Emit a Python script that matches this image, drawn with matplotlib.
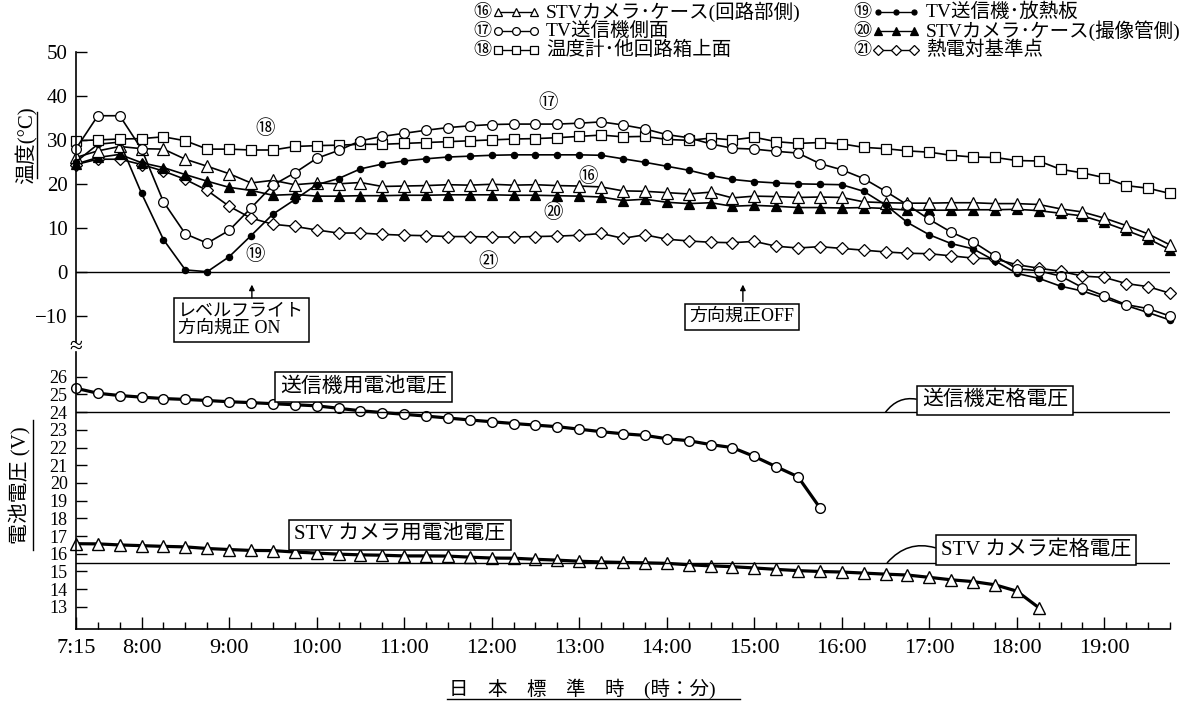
import numpy as np
import matplotlib.pyplot as plt

jp = ['Noto Sans CJK JP', 'DejaVu Sans']
mix = ['Liberation Serif', 'Noto Sans CJK JP', 'DejaVu Sans']
plt.rcParams['font.family'] = mix

# readings every 15 min from 7:15 to 19:45 (hours as float)
t = 7.25 + 0.25 * np.arange(51)

# temperatures (deg C), one value per 15 min
T16 = [26.0, 27.5, 28.5, 28.0, 27.9, 25.6, 24.0, 22.3, 20.2, 20.8, 19.8, 20.2, 20.0, 20.3, 19.4,
       19.5, 19.6, 19.8, 19.7, 19.9, 19.7, 19.8, 19.6, 19.5,
       19.3, 18.4, 18.3, 18.0, 17.7, 18.1, 16.8, 17.2, 17.1, 16.9, 17.0, 16.9, 15.9, 15.7, 15.6,
       15.6, 15.7, 15.7, 15.5, 15.5, 15.3, 14.3, 13.6, 12.2, 10.5, 8.6, 6.1]
T17 = [28.0, 35.5, 35.5, 27.9, 15.9, 8.6, 6.5, 9.4, 14.5, 19.7, 22.5, 25.8, 27.6, 29.8, 30.8,
       31.5, 32.2, 32.8, 33.2, 33.5, 33.6, 33.6, 33.6, 33.8,
       34.1, 33.4, 32.5, 31.2, 30.5, 29.1, 28.1, 27.9, 27.4, 27.0, 24.6, 23.2, 21.2, 18.3, 15.2,
       11.9, 9.0, 6.8, 3.6, 0.7, 0.2, -1.0, -3.6, -5.5, -7.5, -8.4, -10.1]
T18 = [29.8, 30.0, 30.2, 30.3, 30.7, 29.8, 27.9, 27.9, 27.7, 27.7, 28.5, 28.7, 28.8, 29.0, 29.0,
       29.2, 29.4, 29.6, 29.8, 30.0, 30.2, 30.3, 30.5, 30.8,
       31.1, 30.7, 30.8, 30.1, 29.9, 30.4, 30.0, 30.6, 29.6, 29.2, 29.4, 29.1, 28.3, 28.0, 27.5,
       27.2, 26.5, 26.1, 26.0, 25.3, 25.2, 23.3, 22.5, 21.4, 19.6, 19.0, 17.8]
T19 = [25.0, 29.0, 29.5, 17.8, 7.3, 0.4, 0.0, 3.4, 8.2, 13.1, 16.4, 19.8, 21.2, 23.4, 24.5,
       25.2, 25.7, 26.1, 26.3, 26.5, 26.6, 26.6, 26.6, 26.6,
       26.5, 25.7, 24.9, 24.0, 23.1, 21.9, 21.0, 20.5, 20.2, 20.0, 19.9, 19.8, 18.3, 15.2, 11.2,
       8.4, 6.4, 5.2, 2.5, -0.4, -1.5, -3.3, -4.4, -6.0, -7.7, -9.3, -11.0]
T20 = [24.5, 26.0, 26.7, 24.8, 23.7, 22.1, 20.6, 19.2, 18.5, 17.4, 17.6, 17.2, 17.2, 17.3, 17.3,
       17.4, 17.4, 17.5, 17.5, 17.5, 17.4, 17.4, 17.3, 17.2,
       17.0, 16.2, 16.5, 15.8, 15.5, 15.7, 14.9, 15.1, 14.9, 14.6, 14.6, 14.5, 14.6, 14.4, 14.0,
       14.0, 14.0, 14.1, 14.1, 14.2, 13.9, 13.3, 12.7, 11.2, 9.4, 7.5, 5.0]
T21 = [24.4, 25.6, 25.6, 24.4, 22.9, 21.0, 18.5, 14.9, 12.2, 10.8, 10.3, 9.5, 8.8, 8.8, 8.5,
       8.3, 8.2, 8.0, 8.0, 7.9, 7.9, 8.0, 8.1, 8.3,
       8.7, 7.6, 8.4, 7.4, 7.0, 6.7, 6.6, 6.9, 5.8, 5.4, 5.7, 5.3, 4.9, 4.5, 4.2,
       4.1, 3.6, 3.1, 2.9, 1.6, 0.8, 0.1, -1.0, -1.3, -2.7, -3.4, -4.9]

# battery voltages (V): transmitter until 15:45, camera until 18:15
V_tx = [25.35, 25.07, 24.94, 24.85, 24.77, 24.72, 24.66, 24.59, 24.54, 24.48, 24.42, 24.36,
        24.22, 24.08, 23.98, 23.88, 23.78, 23.67, 23.56, 23.46, 23.36, 23.27, 23.18, 23.04,
        22.90, 22.78, 22.69, 22.50, 22.39, 22.17, 22.00, 21.50, 20.92, 20.35, 18.60]
V_cam = [16.57, 16.56, 16.50, 16.46, 16.42, 16.39, 16.30, 16.24, 16.19, 16.18, 16.10, 16.04,
         15.98, 15.94, 15.92, 15.88, 15.88, 15.87, 15.81, 15.76, 15.75, 15.69, 15.64, 15.58,
         15.54, 15.51, 15.49, 15.46, 15.38, 15.32, 15.27, 15.20, 15.12, 15.05, 15.00, 14.97,
         14.91, 14.85, 14.80, 14.67, 14.53, 14.43, 14.25, 13.89, 12.96]
V_tx_rated = 24.0
V_cam_rated = 15.5

hour_ticks = [7.25, 8, 9, 10, 11, 12, 13, 14, 15, 16, 17, 18, 19]
hour_labels = ['7:15', '8:00', '9:00', '10:00', '11:00', '12:00', '13:00',
               '14:00', '15:00', '16:00', '17:00', '18:00', '19:00']

styles = {
    '16': dict(marker='^', mfc='white', ms=8),
    '17': dict(marker='o', mfc='white', ms=7),
    '18': dict(marker='s', mfc='white', ms=7),
    '19': dict(marker='o', mfc='black', ms=4.5),
    '20': dict(marker='^', mfc='black', ms=7),
    '21': dict(marker='D', mfc='white', ms=6.5),
}
series = {'16': T16, '17': T17, '18': T18, '19': T19, '20': T20, '21': T21}

fig = plt.figure(figsize=(12, 7.04), dpi=100)
ax1 = fig.add_axes([0.0633, 0.5142, 0.9117, 0.4119])
ax2 = fig.add_axes([0.0633, 0.1065, 0.9117, 0.3935])

# ---- temperature panel
for key in ['21', '20', '16', '19', '18', '17']:
    st = styles[key]
    ax1.plot(t, series[key], color='black', lw=1.2, marker=st['marker'], ms=st['ms'],
             mfc=st['mfc'], mec='black', mew=0.9, clip_on=False)
ax1.axhline(0, color='black', lw=1.0)
ax1.set_xlim(7.25, 19.75)
ax1.set_ylim(-16, 50)
ax1.set_yticks([-10, 0, 10, 20, 30, 40, 50])
ax1.set_yticklabels(['−10', '0', '10', '20', '30', '40', '50'])
ax1.tick_params(axis='y', direction='in', length=8, width=1, labelsize=15, pad=6)
ax1.xaxis.set_visible(False)
for s in ['top', 'right', 'bottom']:
    ax1.spines[s].set_visible(False)
ax1.spines['left'].set_linewidth(1.2)

lbl = dict(fontsize=14, ha='center', va='center', family=jp)
ax1.text(9.41, 32.7, '⑱', **lbl)
ax1.text(12.64, 38.4, '⑰', **lbl)
ax1.text(13.10, 21.6, '⑯', **lbl)
ax1.text(12.70, 13.4, '⑳', **lbl)
ax1.text(9.30, 3.9, '⑲', **lbl)
ax1.text(11.96, 2.3, '㉑', **lbl)

box = dict(boxstyle='square,pad=0.25', fc='white', ec='black', lw=1.1)
ax1.text(8.42, -7.0, 'レベルフライト\n方向規正 ON', fontsize=13, ha='left', va='top',
         linespacing=1.05, bbox=box, family=mix)
ax1.annotate('', xy=(9.26, -2.3), xytext=(9.26, -6.6),
             arrowprops=dict(arrowstyle='-|>', color='black', lw=1, mutation_scale=8))
ax1.text(14.86, -10.2, '方向規正OFF', fontsize=13, ha='center', va='center',
         bbox=box, family=mix)
ax1.annotate('', xy=(14.87, -2.3), xytext=(14.87, -7.4),
             arrowprops=dict(arrowstyle='-|>', color='black', lw=1, mutation_scale=8))

# ---- voltage panel
ax2.plot(t[:len(V_tx)], V_tx, color='black', lw=2.3, marker='o', ms=7, mfc='white',
         mec='black', mew=1.0, clip_on=False)
ax2.plot(t[:len(V_cam)], V_cam, color='black', lw=2.3, marker='^', ms=8, mfc='white',
         mec='black', mew=1.0, clip_on=False)
ax2.axhline(V_tx_rated, color='black', lw=1.0)
ax2.axhline(V_cam_rated, color='black', lw=1.0)
ax2.set_xlim(7.25, 19.75)
ax2.set_ylim(11.75, 27.4)
ax2.set_yticks(range(13, 27))
ax2.tick_params(axis='y', direction='in', length=8, width=1, labelsize=13, pad=6)
ax2.set_xticks(hour_ticks)
ax2.set_xticklabels(hour_labels)
ax2.set_xticks(np.arange(7.5, 19.8, 0.25), minor=True)
ax2.tick_params(axis='x', which='major', direction='in', length=9, width=1, labelsize=16, pad=7)
ax2.tick_params(axis='x', which='minor', direction='in', length=5, width=1)
for s in ['top', 'right']:
    ax2.spines[s].set_visible(False)
ax2.spines['left'].set_linewidth(1.2)
ax2.spines['bottom'].set_linewidth(1.2)

ax2.text(9.58, 25.42, '送信機用電池電圧', fontsize=15, ha='left', va='center',
         bbox=box, family=mix)
ax2.text(10.95, 17.05, 'STV カメラ用電池電圧', fontsize=15, ha='center', va='center',
         bbox=box, family=mix)
lead = dict(arrowstyle='-', color='black', lw=1.1, relpos=(0, 0.5),
            connectionstyle='arc3,rad=0.35', shrinkA=0, shrinkB=0)
ax2.annotate('送信機定格電圧', xy=(16.5, V_tx_rated), xytext=(17.75, 24.66), fontsize=15,
             ha='center', va='center', bbox=box, family=mix, arrowprops=lead)
ax2.annotate('STV カメラ定格電圧', xy=(16.52, V_cam_rated), xytext=(18.22, 16.23),
             fontsize=15, ha='center', va='center', bbox=box, family=mix, arrowprops=lead)

# ---- overlay in pixel coordinates for legend and titles
ov = fig.add_axes([0, 0, 1, 1])
ov.set_xlim(0, 1200)
ov.set_ylim(704, 0)
ov.axis('off')

legend_rows = [
    (482, 12, '16', '⑯', 'STVカメラ･ケース(回路部側)'),
    (482, 31, '17', '⑰', 'TV送信機側面'),
    (482, 50, '18', '⑱', '温度計･他回路箱上面'),
    (862, 12, '19', '⑲', 'TV送信機･放熱板'),
    (862, 31, '20', '⑳', 'STVカメラ･ケース(撮像管側)'),
    (862, 50, '21', '㉑', '熱電対基準点'),
]
for x0, y0, key, num, name in legend_rows:
    st = styles[key]
    ov.text(x0, y0, num, fontsize=13, ha='center', va='center', family=jp)
    ov.plot([x0 + 16, x0 + 34, x0 + 52], [y0, y0, y0], color='black', lw=1,
            marker=st['marker'], ms=st['ms'] * 0.8, mfc=st['mfc'], mec='black', mew=0.9)
    ov.text(x0 + 64, y0, name, fontsize=14, ha='left', va='center', family=mix)

ov.text(27, 145, '温度(°C)', rotation=90, fontsize=15, ha='center', va='center', family=mix)
ov.plot([37, 37], [112, 178], color='black', lw=1)
ov.text(20, 485, '電池電圧 (V)', rotation=90, fontsize=15, ha='center', va='center', family=mix)
ov.plot([33, 33], [420, 550], color='black', lw=1)
ov.text(449, 689, '日　本　標　準　時　(時：分)', fontsize=14, ha='left', va='center', family=mix)
ov.plot([447, 740], [699, 699], color='black', lw=1)
ov.text(76, 347, '≈', fontsize=17, ha='center', va='center', family=mix)

fig.savefig('out.png', dpi=100, facecolor='white')
